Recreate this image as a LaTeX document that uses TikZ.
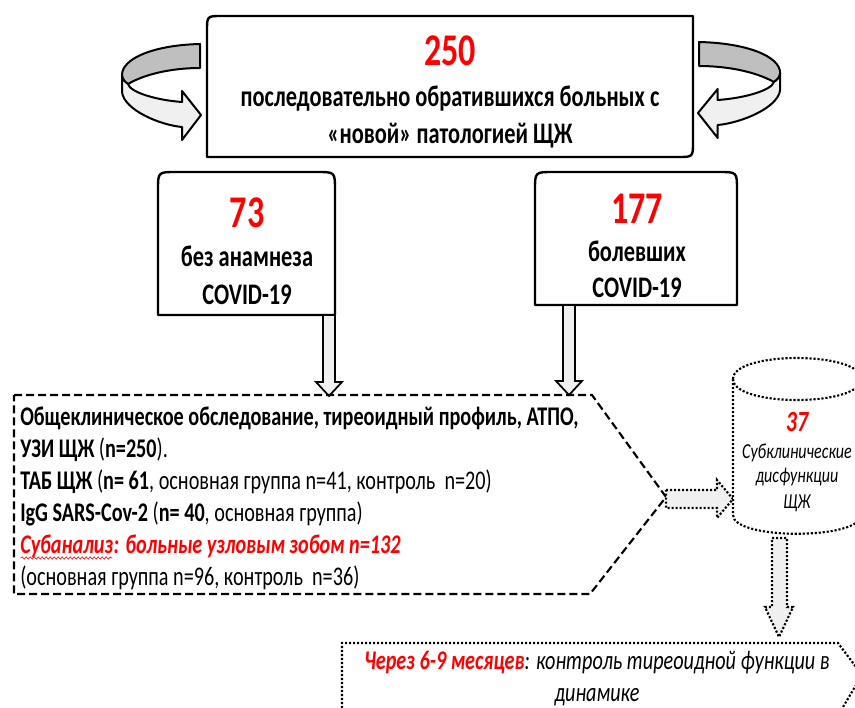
\documentclass[tikz,border=0pt]{standalone}
\usepackage{fontspec}
\setmainfont{Carlito}[FakeStretch=0.75]
\usetikzlibrary{calc,decorations.pathmorphing}
\definecolor{numred}{RGB}{255,0,0}
\definecolor{arrowfill}{RGB}{240,240,240}
\definecolor{bandgray}{RGB}{191,191,191}
\tikzset{
  boxline/.style={line width=1.8pt, line join=round},
  dashline/.style={line width=1.6pt, dash pattern=on 6pt off 3pt},
  dotline/.style={line width=1.6pt, dash pattern=on 1.6pt off 1.4pt},
  blockarrow/.style={draw, line width=1.3pt, fill=arrowfill, line join=miter},
  ribbonline/.style={line width=1.5pt, line join=round},
  txt/.style={inner sep=0pt, anchor=base},
  num/.style={txt, font=\bfseries\fontsize{34}{34}\selectfont, text=numred},
  boxtext/.style={txt, font=\bfseries\fontsize{22.4}{26}\selectfont},
  ptext/.style={inner sep=0pt, anchor=base west, font=\fontsize{20.2}{24}\selectfont},
  cyltext/.style={txt, font=\itshape\fontsize{16}{19}\selectfont},
  squiggle/.style={numred, line width=0.5pt, decorate, decoration={snake, amplitude=0.8pt, segment length=3pt}},
}
\newcommand{\ribbonarrow}{%
  \filldraw[ribbonline, fill=bandgray] (200,44) .. controls (155,45) and (122,58) .. (122,75)
     .. controls (122,79) and (125,82) .. (128,84) .. controls (145,74) and (172,68) .. (200,68) -- cycle;
  \filldraw[ribbonline, fill=arrowfill] (122,75) -- (122,92) .. controls (124,110) and (160,125) .. (182,127)
     -- (182,140) -- (201,115) -- (182,91) -- (182,102) .. controls (155,100) and (130,92) .. (128,84)
     .. controls (125,82) and (122,79) .. (122,75) -- cycle;
}
\begin{document}
\begin{tikzpicture}[x=0.75pt, y=-0.75pt]
\useasboundingbox (0,0) rectangle (855,707);
\clip (0,0) rectangle (855,707);
\fill[white] (0,0) rectangle (855,707);

% circular ribbon arrows
\ribbonarrow
\begin{scope}[shift={(907,-2)}, xscale=-1.04]
  \ribbonarrow
\end{scope}

% top box
\draw[boxline] (207,157) -- (207,31) .. controls (207,16) .. (222,16) -- (693,16) -- (693,142) .. controls (693,157) .. (678,157) -- cycle;
\node[num] (n250) at (450,65) {250};
\node[boxtext] (t250a) at (450,106) {последовательно обратившихся больных с};
\node[boxtext] (t250b) at (450,143) {«новой» патологией ЩЖ};

% box 73
\draw[boxline] (158,315) -- (158,190) .. controls (158,172) .. (176,172) -- (317,172) .. controls (335,172) .. (335,190) -- (335,315) -- cycle;
\node[num] (n73) at (247,227) {73};
\node[boxtext] (t73a) at (247,266) {без анамнеза};
\node[boxtext] (t73b) at (247,304) {COVID-19};

% box 177
\draw[boxline] (535,305) -- (535,190) .. controls (535,172) .. (553,172) -- (719,172) .. controls (737,172) .. (737,190) -- (737,305) -- cycle;
\node[num] (n177) at (637,223) {177};
\node[boxtext] (t177a) at (637,261) {болевших};
\node[boxtext] (t177b) at (637,297) {COVID-19};

% vertical block arrows
\path[blockarrow] (323,315) -- (335,315) -- (335,382) -- (342,382) -- (329,396) -- (316,382) -- (323,382) -- cycle;
\path[blockarrow] (563,305) -- (575,305) -- (575,381) -- (582,381) -- (569,395) -- (556,381) -- (563,381) -- cycle;

% dashed pentagon
\draw[dashline] (14,395) -- (592,395) -- (666,497) -- (590,594) -- (14,594) -- cycle;
\node[ptext] (p1) at (20,425) {\bfseries Общеклиническое обследование, тиреоидный профиль, АТПО,};
\node[ptext] (p2) at (20,457) {\textbf{УЗИ ЩЖ} (\textbf{n=250}).};
\node[ptext] (p3) at (20,489) {\textbf{ТАБ ЩЖ} (\textbf{n= 61}, основная группа n=41, контроль\ \ n=20)};
\node[ptext] (p4) at (20,521) {\textbf{IgG SARS-Cov-2} (\textbf{n= 40}, основная группа)};
\node[ptext, text=numred, font=\bfseries\itshape\fontsize{20.2}{24}\selectfont] (p5a) at (20,553) {Субанализ};
\node[ptext, text=numred, font=\bfseries\itshape\fontsize{20.2}{24}\selectfont] (p5b) at (p5a.base east) {: больные узловым зобом n=132};
\draw[squiggle] ($(p5a.base west)+(1,5)$) -- ($(p5a.base east)+(-1,5)$);
\node[ptext] (p6) at (20,585) {(основная группа n=96, контроль\ \ n=36)};

% horizontal dotted arrow
\filldraw[dotline, fill=arrowfill] (666,490) -- (717,490) -- (717,480) -- (733,499) -- (717,518) -- (717,508) -- (666,508) -- cycle;

% cylinder
\draw[dotline, fill=white] (733,379) -- (733,515) .. controls (733,540) and (861,540) .. (861,515) -- (861,379);
\draw[dotline] (733,379) .. controls (733,351) and (861,351) .. (861,379) .. controls (861,407) and (733,407) .. (733,379);
\node[txt, font=\bfseries\itshape\fontsize{22}{22}\selectfont, text=numred] (n37) at (797,431) {37};
\node[cyltext] (c1) at (797,458) {Субклинические};
\node[cyltext] (c2) at (797,482) {дисфункции};
\node[cyltext] (c3) at (797,508) {ЩЖ};

% down dotted arrow
\filldraw[dotline, fill=arrowfill] (772,538) -- (787,538) -- (787,607) -- (793,607) -- (779,637) -- (765,607) -- (772,607) -- cycle;

% bottom dotted box
\draw[dotline] (342,712) -- (342,643) -- (838,643) -- (862,675) -- (840,712);
\node[txt, font=\itshape\fontsize{20.2}{24}\selectfont] (b1) at (597,669) {{\color{numred}\bfseries Через 6-9 месяцев}: контроль тиреоидной функции в};
\node[txt, font=\itshape\fontsize{20.2}{24}\selectfont] (b2) at (597,701) {динамике};
\end{tikzpicture}
\end{document}
